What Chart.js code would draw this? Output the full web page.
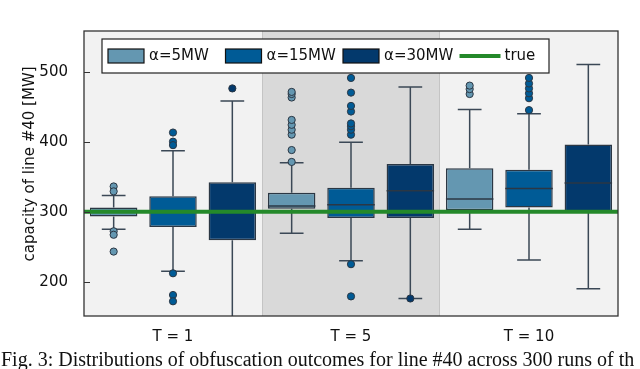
<!DOCTYPE html>
<html>
<head>
<meta charset="utf-8">
<script src="https://cdn.jsdelivr.net/npm/chart.js@4/dist/chart.umd.min.js"></script>
<style>
  body { margin: 0; background: #fff; }
  #wrap { position: relative; width: 640px; height: 369px; overflow: hidden; }
  #caption {
    position: absolute; left: 1px; top: 349px; width: 760px;
    font-family: "Liberation Serif", serif; font-size: 20px; line-height: 20px;
    white-space: nowrap; color: #111;
  }
</style>
</head>
<body>
<div id="wrap">
  <canvas id="chart" width="640" height="369"></canvas>
  <div id="caption">Fig. 3: Distributions of obfuscation outcomes for line #40 across 300 runs of th</div>
</div>
<script>
const categories = ['T = 1', 'T = 5', 'T = 10']
const seriesLabels = ['α=5MW', 'α=15MW', 'α=30MW']
const seriesColors = ['#6497b1', '#005b96', '#03396c']
const yTicks = [200, 300, 400, 500]
const trueValue = 300

const alpha5Low = [275, 269, 275]
const alpha5Q1 = [293, 304, 302]
const alpha5Median = [299, 308, 318]
const alpha5Q3 = [306, 327, 362]
const alpha5High = [323, 370, 446]
const alpha5Outliers = [[336, 329, 272, 267, 243], [371, 388, 410, 417, 424, 431, 463, 468, 471], [468, 475, 480]]

const alpha15Low = [215, 230, 231]
const alpha15Q1 = [278, 291, 306]
const alpha15Median = [300, 310, 333]
const alpha15Q3 = [322, 334, 360]
const alpha15High = [387, 399, 440]
const alpha15Outliers = [[413, 400, 395, 212, 181, 172], [410, 417, 422, 426, 443, 451, 470, 491, 225, 179], [445, 462, 469, 476, 483, 491]]

const alpha30Low = [140, 176, 190]
const alpha30Q1 = [259, 291, 300]
const alpha30Median = [299, 330, 341]
const alpha30Q3 = [342, 368, 396]
const alpha30High = [458, 478, 510]
const alpha30Outliers = [[476], [176], []]

const stats = [
  { low: alpha5Low, q1: alpha5Q1, median: alpha5Median, q3: alpha5Q3, high: alpha5High, outliers: alpha5Outliers },
  { low: alpha15Low, q1: alpha15Q1, median: alpha15Median, q3: alpha15Q3, high: alpha15High, outliers: alpha15Outliers },
  { low: alpha30Low, q1: alpha30Q1, median: alpha30Median, q3: alpha30Q3, high: alpha30High, outliers: alpha30Outliers }
]

const FONT = '"DejaVu Sans", sans-serif'
const edgeColor = '#2b3744'
const whiskerColor = '#3b4856'
const trueColor = '#24892a'

// whiskers, medians, fliers, background, frame and legend
const boxPlot = {
  id: 'boxPlot',
  beforeDraw(chart) {
    const { ctx, chartArea: a, scales: { x } } = chart
    ctx.save()
    ctx.fillStyle = '#f2f2f2'
    ctx.fillRect(a.left, a.top, a.right - a.left, a.bottom - a.top)
    const l = x.getPixelForValue(0.5), r = x.getPixelForValue(1.5)
    ctx.fillStyle = '#d9d9d9'
    ctx.fillRect(l, a.top, r - l, a.bottom - a.top)
    ctx.strokeStyle = '#c4c4c4'
    ctx.lineWidth = 1
    ctx.beginPath()
    ctx.moveTo(l + 0.5, a.top); ctx.lineTo(l + 0.5, a.bottom)
    ctx.moveTo(r - 0.5, a.top); ctx.lineTo(r - 0.5, a.bottom)
    ctx.stroke()
    ctx.restore()
  },
  beforeDatasetsDraw(chart) {
    const { ctx, chartArea: a, scales: { y } } = chart
    ctx.save()
    ctx.beginPath()
    ctx.rect(a.left, a.top, a.right - a.left, a.bottom - a.top)
    ctx.clip()
    ctx.strokeStyle = whiskerColor
    ctx.lineWidth = 1.5
    stats.forEach((s, d) => {
      chart.getDatasetMeta(d).data.forEach((bar, i) => {
        const cap = bar.width / 4
        ctx.beginPath()
        ctx.moveTo(bar.x, y.getPixelForValue(s.q1[i])); ctx.lineTo(bar.x, y.getPixelForValue(s.low[i]))
        ctx.moveTo(bar.x, y.getPixelForValue(s.q3[i])); ctx.lineTo(bar.x, y.getPixelForValue(s.high[i]))
        ctx.moveTo(bar.x - cap, y.getPixelForValue(s.low[i])); ctx.lineTo(bar.x + cap, y.getPixelForValue(s.low[i]))
        ctx.moveTo(bar.x - cap, y.getPixelForValue(s.high[i])); ctx.lineTo(bar.x + cap, y.getPixelForValue(s.high[i]))
        ctx.stroke()
      })
    })
    ctx.restore()
  },
  afterDatasetsDraw(chart) {
    const { ctx, chartArea: a, scales: { y } } = chart
    ctx.save()
    stats.forEach((s, d) => {
      chart.getDatasetMeta(d).data.forEach((bar, i) => {
        const half = bar.width / 2
        const ym = y.getPixelForValue(s.median[i])
        ctx.strokeStyle = edgeColor
        ctx.lineWidth = 1.5
        ctx.beginPath()
        ctx.moveTo(bar.x - half, ym); ctx.lineTo(bar.x + half, ym)
        ctx.stroke()
        ctx.fillStyle = seriesColors[d]
        ctx.lineWidth = 1
        s.outliers[i].forEach(v => {
          ctx.beginPath()
          ctx.arc(bar.x, y.getPixelForValue(v), 3.6, 0, Math.PI * 2)
          ctx.fill()
          ctx.stroke()
        })
      })
    })
    // true value line
    const yt = y.getPixelForValue(trueValue)
    ctx.strokeStyle = trueColor
    ctx.lineWidth = 4
    ctx.beginPath()
    ctx.moveTo(a.left, yt); ctx.lineTo(a.right, yt)
    ctx.stroke()
    // frame
    ctx.strokeStyle = '#333'
    ctx.lineWidth = 1.3
    ctx.strokeRect(a.left, a.top, a.right - a.left, a.bottom - a.top)
    // inward y ticks
    ctx.lineWidth = 1.2
    ctx.beginPath()
    yTicks.forEach(v => {
      const p = Math.round(y.getPixelForValue(v)) + 0.5
      ctx.moveTo(a.left, p); ctx.lineTo(a.left + 6, p)
    })
    ctx.stroke()
    ctx.restore()
  },
  afterDraw(chart) {
    const { ctx, chartArea: a } = chart
    const left = a.left + 18, top = a.top + 8, w = 447, h = 34
    ctx.save()
    ctx.fillStyle = '#fff'
    ctx.fillRect(left, top, w, h)
    ctx.strokeStyle = '#222'
    ctx.lineWidth = 1.2
    ctx.strokeRect(left, top, w, h)
    ctx.font = '15px ' + FONT
    ctx.textBaseline = 'middle'
    ctx.fillStyle = '#111'
    const cy = top + h / 2
    let x = left + 6
    seriesLabels.forEach((lab, d) => {
      ctx.fillStyle = seriesColors[d]
      ctx.fillRect(x, cy - 7, 36, 14)
      ctx.strokeStyle = '#111'
      ctx.lineWidth = 1.2
      ctx.strokeRect(x, cy - 7, 36, 14)
      ctx.fillStyle = '#111'
      ctx.fillText(lab, x + 41, cy)
      x += 117.5
    })
    ctx.strokeStyle = trueColor
    ctx.lineWidth = 4
    ctx.beginPath()
    ctx.moveTo(x - 1, cy); ctx.lineTo(x + 40, cy)
    ctx.stroke()
    ctx.fillStyle = '#111'
    ctx.fillText('true', x + 44, cy)
    ctx.restore()
  }
}

new Chart(document.getElementById('chart'), {
  type: 'bar',
  data: {
    labels: categories,
    datasets: seriesLabels.map((label, d) => ({
      label: label,
      data: categories.map((c, i) => [stats[d].q1[i], stats[d].q3[i]]),
      backgroundColor: seriesColors[d],
      borderColor: edgeColor,
      borderWidth: 1.5,
      borderSkipped: false,
      barPercentage: 0.8,
      categoryPercentage: 1.0
    }))
  },
  options: {
    responsive: false,
    animation: false,
    layout: { padding: { left: 0, right: 22, top: 31, bottom: 0 } },
    plugins: { legend: { display: false }, tooltip: { enabled: false } },
    scales: {
      x: {
        grid: { display: false },
        border: { display: false },
        ticks: { color: '#111', font: { family: FONT, size: 15 }, padding: 4 },
        afterFit: scale => { scale.height = 53 }
      },
      y: {
        min: 151,
        max: 558,
        afterBuildTicks: scale => { scale.ticks = yTicks.map(v => ({ value: v })) },
        grid: { display: false },
        border: { display: false },
        ticks: { color: '#111', font: { family: FONT, size: 15 }, padding: 8 },
        title: {
          display: true,
          text: '    capacity of line #40 [MW]',
          color: '#111',
          font: { family: FONT, size: 15 },
          padding: { top: 21, bottom: 0 }
        },
        afterFit: scale => { scale.width = 84 }
      }
    }
  },
  plugins: [boxPlot]
})
</script>
</body>
</html>
